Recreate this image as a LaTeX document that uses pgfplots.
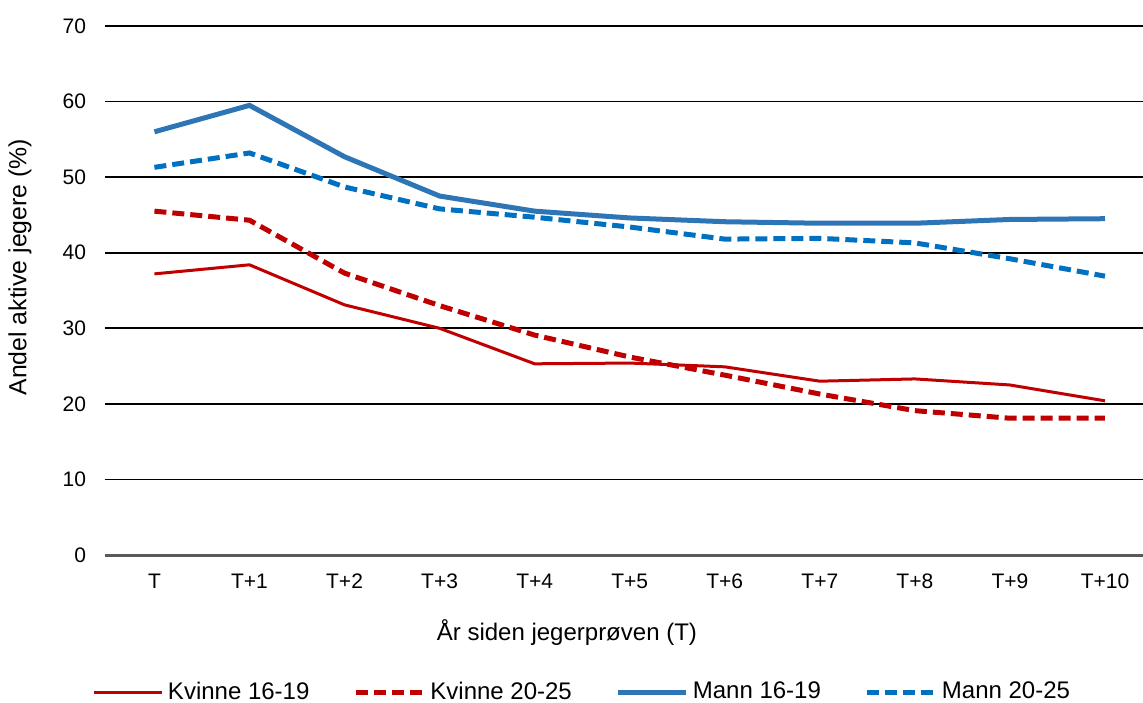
\documentclass[border=0pt]{standalone}
\usepackage{fontspec}
\setmainfont{Liberation Sans}
\usepackage{pgfplots}
\pgfplotsset{compat=1.18}
\definecolor{kred}{HTML}{C00000}
\definecolor{mblue}{HTML}{2E75B6}
\definecolor{mblued}{HTML}{0070C0}
\definecolor{axgray}{HTML}{595959}

\begin{document}
\begin{tikzpicture}
  \begin{axis}[
      name=ax,
      scale only axis,
      width=519pt, height=264.5pt,
      xmin=-0.52, xmax=10.4,
      ymin=0, ymax=70,
      xtick={0,...,10},
      xticklabels={T,T+1,T+2,T+3,T+4,T+5,T+6,T+7,T+8,T+9,T+10},
      ytick={10,20,...,70},
      extra y ticks={0},
      extra y tick style={grid style={draw=axgray, line width=1.5pt}},
      ymajorgrids=true,
      grid style={draw=black, line width=0.8pt},
      axis line style={draw=none},
      major tick length=0pt,
      tick label style={font=\fontsize{10.5}{12}\selectfont},
      /pgf/number format/assume math mode=true,
      xticklabel style={yshift=-6pt},
      yticklabel style={xshift=-6pt},
      xlabel={År siden jegerprøven (T)},
      ylabel={Andel aktive jegere (\%)},
      xlabel style={font=\fontsize{12}{14}\selectfont,
        at={(axis description cs:0.445,-0.1456)}, anchor=center},
      ylabel style={font=\fontsize{12.4}{14}\selectfont,
        at={(axis description cs:-0.0819,0.544)}, anchor=center},
      legend columns=4,
      legend style={
        at={(axis description cs:0.461,-0.259)}, anchor=center,
        draw=none, fill=none,
        font=\fontsize{12}{14}\selectfont,
        /tikz/every even column/.append style={column sep=20pt},
      },
      legend image code/.code={\draw[#1] (0pt,0pt) -- (34pt,0pt);},
      legend cell align=left,
    ]

    \addplot[kred, line width=1.5pt] coordinates {
      (0,37.2) (1,38.4) (2,33.1) (3,30.0) (4,25.3) (5,25.4)
      (6,24.9) (7,23.0) (8,23.3) (9,22.5) (10,20.4)
    };
    \addlegendentry{Kvinne 16-19}

    \addplot[kred, line width=2.5pt, dash pattern=on 6pt off 3pt] coordinates {
      (0,45.5) (1,44.3) (2,37.3) (3,33.0) (4,29.1) (5,26.2)
      (6,23.8) (7,21.3) (8,19.1) (9,18.1) (10,18.1)
    };
    \addlegendentry{Kvinne 20-25}

    \addplot[mblue, line width=2.5pt] coordinates {
      (0,56.0) (1,59.5) (2,52.7) (3,47.5) (4,45.5) (5,44.6)
      (6,44.1) (7,43.9) (8,43.9) (9,44.4) (10,44.5)
    };
    \addlegendentry{Mann 16-19}

    \addplot[mblued, line width=2.5pt, dash pattern=on 6pt off 3pt] coordinates {
      (0,51.3) (1,53.2) (2,48.7) (3,45.8) (4,44.7) (5,43.4)
      (6,41.8) (7,41.9) (8,41.3) (9,39.2) (10,36.9)
    };
    \addlegendentry{Mann 20-25}

  \end{axis}
  \pgfresetboundingbox
  \path[use as bounding box] (-52.5pt,-73.5pt) rectangle (519pt,277.5pt);
\end{tikzpicture}
\end{document}
